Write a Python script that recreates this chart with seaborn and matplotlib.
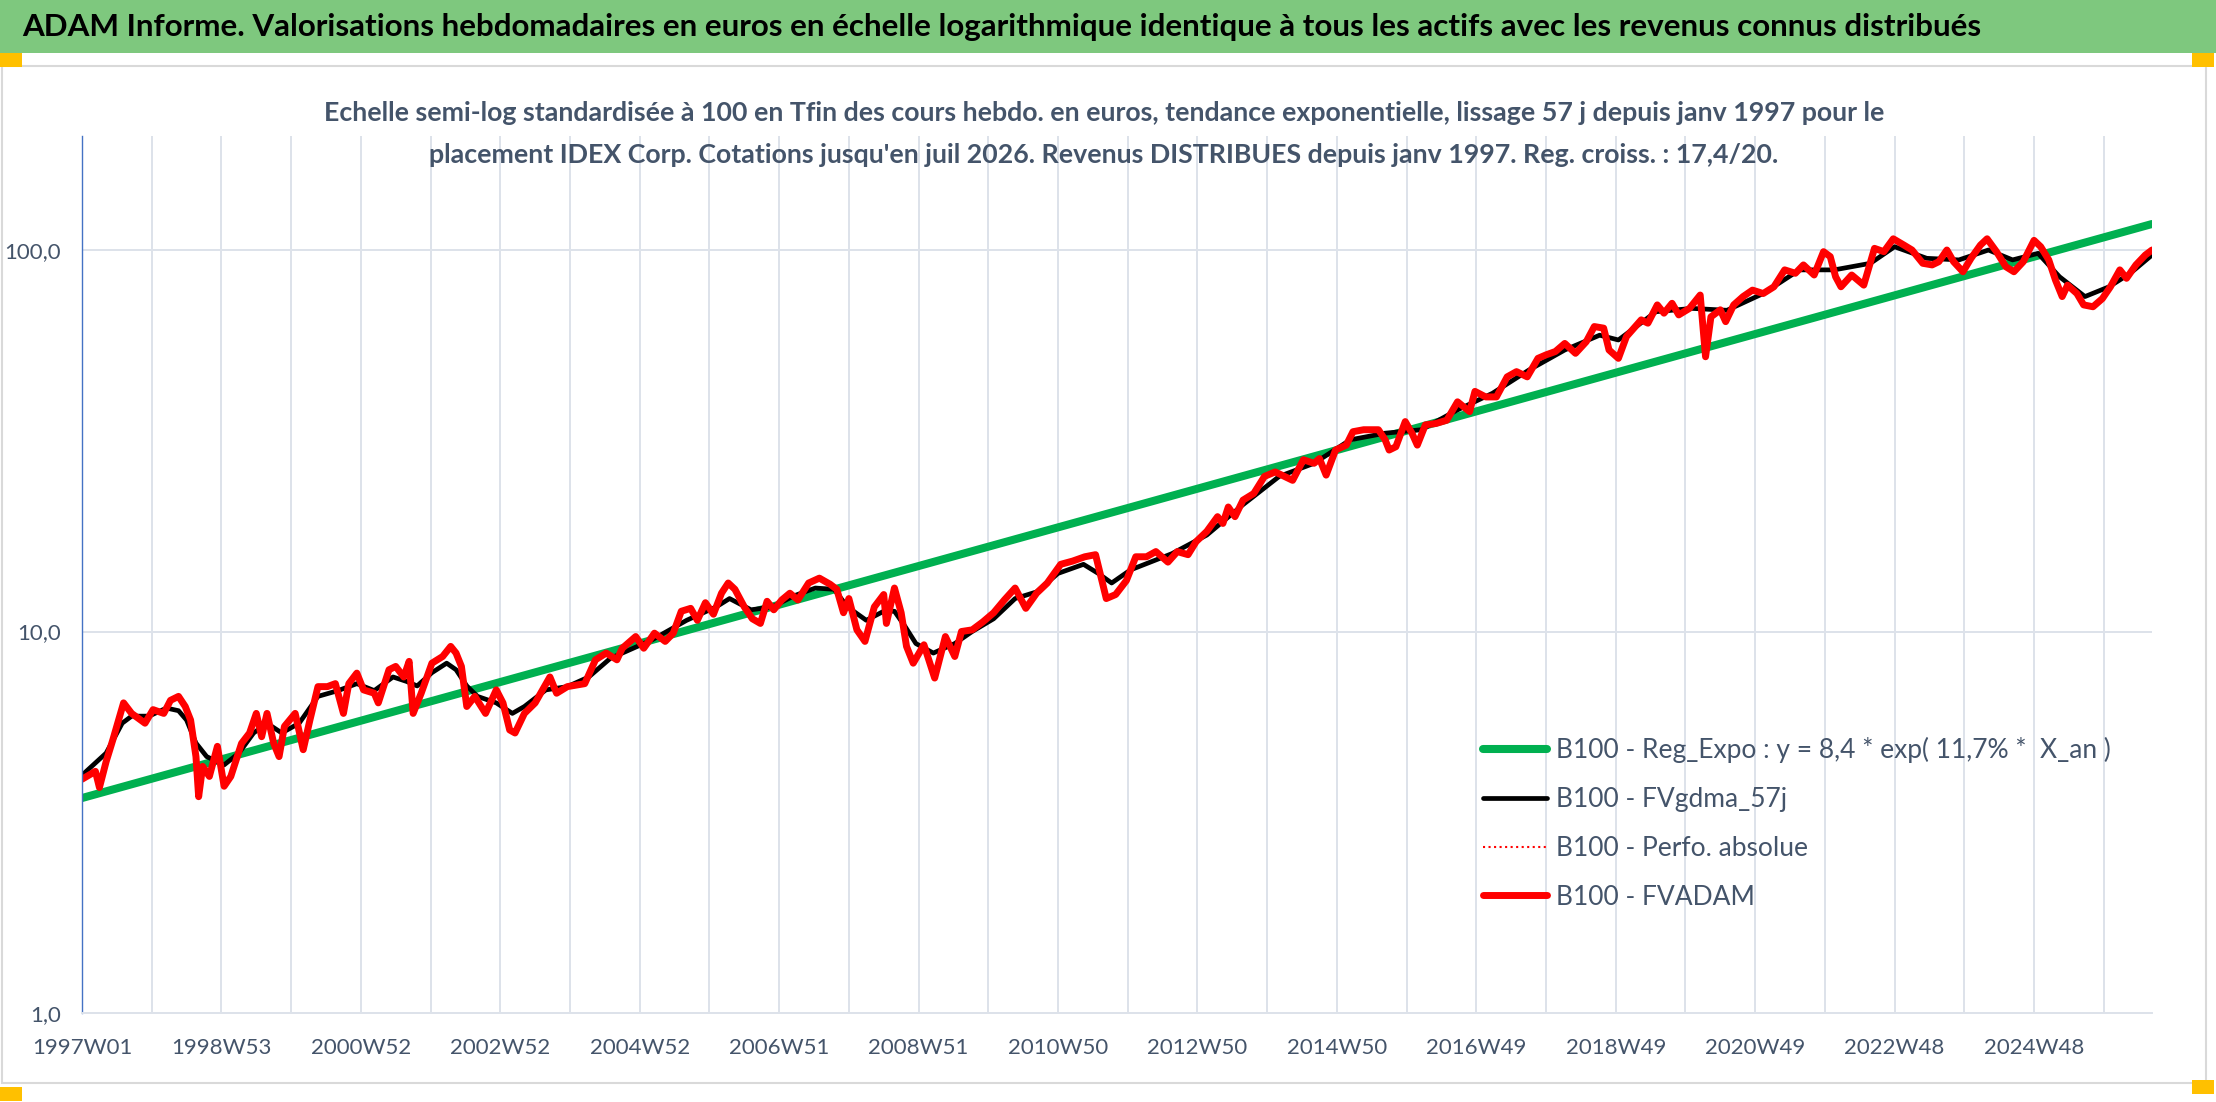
import seaborn as sns
import matplotlib.pyplot as plt
from matplotlib.patches import Rectangle

# semaines (index hebdo depuis 1997W01) et valeurs base 100
red_weeks = [0, 10, 13, 18, 23, 31, 37, 47, 53, 61, 66, 72, 77, 81, 85, 87, 90, 95, 101, 106,
             111, 119, 125, 130, 134, 138, 143, 147, 151, 159, 165, 170, 176, 183, 189, 195, 199, 205, 210, 218,
             221, 229, 234, 240, 244, 247, 253, 261, 269, 275, 279, 283, 287, 293, 301, 309, 314, 319, 323, 330,
             338, 349, 354, 362, 375, 383, 391, 399,
             403, 413, 419, 427, 435, 441, 447, 454, 459, 465, 471, 477, 482, 487, 494, 500, 506, 511, 516, 522,
             528, 534, 542, 550, 558, 563, 568, 572, 578, 584, 591, 598, 600, 606, 611, 615, 620, 628, 636, 644,
             651, 656, 664, 672, 680, 688, 696, 704, 712, 720, 730, 739, 748, 756, 764, 771, 779,
             786, 794, 801, 810, 817, 825, 831, 839, 847, 851, 855, 860, 866, 874, 882, 890, 897, 903, 911, 919,
             923, 928, 935, 943, 948, 956, 967, 972, 975, 980, 987, 992, 996, 1002, 1010, 1018, 1026, 1035, 1039, 1047,
             1055, 1063, 1070, 1078, 1086, 1092, 1099, 1106, 1114, 1122, 1128, 1135, 1139,
             1146, 1152, 1163, 1168, 1175, 1180, 1186, 1191, 1199, 1207, 1211, 1215, 1222, 1226, 1232, 1239, 1246, 1254, 1262, 1270,
             1278, 1284, 1292, 1299, 1304, 1308, 1312, 1320, 1329, 1337, 1344, 1351, 1359, 1365, 1373, 1380, 1385, 1391, 1396, 1403,
             1409, 1416, 1421, 1428, 1435, 1441, 1448, 1456, 1461, 1467, 1472, 1477, 1481, 1488, 1493, 1500, 1507, 1513, 1520, 1525,
             1532, 1539, 1544]
red_vals = [4.1, 4.3, 3.9, 4.56, 5.2, 6.5, 6.1, 5.75, 6.24, 6.1, 6.6, 6.76, 6.36, 5.86, 4.7, 3.69, 4.43, 4.17, 5.0, 3.93,
            4.17, 5.09, 5.42, 6.1, 5.3, 6.1, 5.09, 4.7, 5.64, 6.1, 4.9, 5.86, 7.17, 7.17, 7.3, 6.1, 7.3, 7.78, 7.03, 6.89,
            6.5, 7.94, 8.1, 7.6, 8.35, 6.1, 6.89, 8.26, 8.6, 9.14, 8.78, 8.1, 6.36, 6.76, 6.1, 7.03, 6.5, 5.52, 5.42, 6.1,
            6.5, 7.6, 6.89, 7.17, 7.3, 8.43, 8.78, 8.43,
            9.04, 9.7, 9.04, 9.9, 9.42, 9.9, 11.3, 11.5, 10.7, 11.9, 11.1, 12.6, 13.4, 12.9, 11.6, 10.8, 10.5, 12.0, 11.4, 12.1,
            12.6, 12.1, 13.4, 13.8, 13.3, 12.9, 11.2, 12.2, 10.1, 9.42, 11.6, 12.5, 10.5, 13.0, 11.2, 9.14, 8.26, 9.23, 7.55, 9.7,
            8.6, 10.0, 10.1, 10.6, 11.2, 12.1, 13.0, 11.5, 12.6, 13.4, 15.0, 15.3, 15.7, 15.9, 12.2, 12.5, 13.6,
            15.7, 15.7, 16.2, 15.2, 16.2, 15.9, 17.2, 18.3, 20.0, 19.2, 21.2, 20.0, 22.1, 23.0, 25.5, 26.2, 25.5, 24.9, 28.2, 27.6,
            28.4, 25.7, 29.9, 30.8, 33.4, 33.8, 33.8, 31.8, 29.9, 30.5, 35.5, 33.1, 30.8, 34.8, 35.1, 35.8, 40.0, 37.7, 42.6, 41.2,
            41.2, 46.5, 48.0, 46.5, 52.0, 53.1, 54.2, 56.9, 53.6, 57.5, 63.0, 62.4, 54.7,
            52.0, 59.3, 65.6, 64.3, 71.8, 68.3, 72.5, 67.6, 70.3, 76.2, 52.5, 66.8, 69.7, 64.9, 71.8, 75.5, 78.5, 76.9, 80.1, 88.7,
            86.9, 91.4, 86.0, 99.0, 96.1, 85.1, 80.1, 86.0, 80.9, 101, 99.0, 107, 103, 100, 92.3, 91.4, 93.2, 100, 93.2, 87.7,
            95.1, 103, 107, 99.0, 90.4, 87.7, 93.2, 106, 102, 94.2, 83.4, 75.5, 80.9, 76.9, 71.8, 71.0, 74.6, 80.1, 88.7, 84.3,
            91.4, 97.0, 100]

black_weeks = [0, 18, 30, 37, 50, 63, 72, 78, 85, 93, 106, 117, 128, 138, 149, 162, 176, 191, 205, 218,
               232, 242, 250, 261, 272, 279, 287, 295, 309, 321, 330, 346, 362, 378, 394,
               425, 451, 473, 483, 499, 515, 531, 547, 561, 571, 585, 598, 606, 614, 622, 635, 651, 664, 680, 696,
               712, 728, 747, 758, 768, 782,
               813, 839, 866, 893, 919, 946, 972, 999, 1026, 1052, 1079, 1106, 1132, 1146, 1174, 1201, 1227, 1254, 1281, 1307,
               1334, 1352, 1376, 1400, 1422, 1440, 1459, 1475, 1494, 1512, 1528, 1544]
black_vals = [4.2, 4.8, 5.75, 6.0, 6.0, 6.3, 6.2, 5.86, 5.1, 4.7, 4.47, 4.8, 5.42, 5.75, 5.42, 5.75, 6.76, 7.0, 7.3, 7.0,
              7.6, 7.4, 7.2, 7.8, 8.26, 7.94, 7.2, 6.76, 6.5, 6.1, 6.36, 7.03, 7.17, 7.6, 8.5,
              9.5, 10.7, 11.6, 12.2, 11.4, 11.6, 12.4, 13.0, 12.9, 11.6, 10.7, 11.3, 11.3, 10.3, 9.3, 8.78, 9.3, 10.0, 10.8, 12.2,
              12.7, 14.2, 15.0, 14.2, 13.4, 14.5,
              16.0, 17.9, 21.5, 25.5, 27.6, 31.8, 33.1, 33.8, 38.1, 42.1, 48.4, 54.7, 59.8, 58.1, 68.9, 70.3, 69.5, 76.9, 88.7, 88.7,
              92.3, 102, 95.1, 94.2, 100, 94.2, 98, 85.1, 75.5, 80.1, 87, 97]

# droite de regression expo (ligne droite en semi-log)
green_weeks = [0, 1544]
green_vals = [3.66, 117]

tick_labels = ['1997W01', '1998W53', '2000W52', '2002W52', '2004W52', '2006W51', '2008W51', '2010W50',
               '2012W50', '2014W50', '2016W49', '2018W49', '2020W49', '2022W48', '2024W48']

legend_labels = ['B100 - Reg_Expo : y = 8,4 * exp( 11,7% *  X_an )', 'B100 - FVgdma_57j',
                 'B100 - Perfo. absolue', 'B100 - FVADAM']

sns.set_style("white")
plt.rcParams['font.family'] = ['Lato', 'DejaVu Sans']

W, H = 2216, 1102
fig = plt.figure(figsize=(W / 100, H / 100), dpi=100)
ax = fig.add_axes([82 / W, 1 - 1013 / H, (2152 - 82) / W, (1013 - 136) / H])

grid_c = '#dde2ea'
text_c = '#44546a'

sns.lineplot(x=green_weeks, y=green_vals, ax=ax, color='#00b050', linewidth=5.8, label=legend_labels[0])
sns.lineplot(x=black_weeks, y=black_vals, ax=ax, color='black', linewidth=3.4, label=legend_labels[1])
sns.lineplot(x=red_weeks, y=red_vals, ax=ax, color='#ff0000', linewidth=1.5, linestyle=':', label=legend_labels[2])
sns.lineplot(x=red_weeks, y=red_vals, ax=ax, color='#ff0000', linewidth=5.0, label=legend_labels[3])

ax.set_yscale('log')
ax.set_xlim(0, 1544)
ax.set_ylim(1, 199)
ax.set_yticks([1, 10, 100])
ax.set_yticklabels(['1,0', '10,0', '100,0'])
ax.minorticks_off()
xt = list(range(0, 1545, 52))
ax.set_xticks(xt)
ax.set_xticklabels([tick_labels[i // 2] if i % 2 == 0 else '' for i in range(len(xt))])
ax.grid(True, color=grid_c, linewidth=1.4)
ax.tick_params(axis='x', direction='out', length=6, width=1.4, color=grid_c, pad=12,
               labelsize=16, labelcolor=text_c)
ax.tick_params(axis='y', length=0, pad=15, labelsize=16, labelcolor=text_c)
for s in ['top', 'right']:
    ax.spines[s].set_visible(False)
ax.spines['left'].set_color('#4472c4')
ax.spines['left'].set_linewidth(1.0)
ax.spines['bottom'].set_color(grid_c)
ax.spines['bottom'].set_linewidth(1.4)
ax.set_xlabel('')
ax.set_ylabel('')

ax.legend(loc='upper left', bbox_to_anchor=(1470 / W, 1 - 724 / H), bbox_transform=fig.transFigure,
          frameon=False, fontsize=19, handlelength=2.4, handletextpad=0.35, labelspacing=0.9,
          borderpad=0, labelcolor=text_c)

# bandeau titre + cadre du graphique
fig.patches.append(Rectangle((0, 1 - 53 / H), 1, 53 / H, transform=fig.transFigure,
                             facecolor='#7ec87e', edgecolor='none', zorder=0))
fig.patches.append(Rectangle((2 / W, 1 - 1083 / H), (2206 - 2) / W, (1083 - 66) / H, transform=fig.transFigure,
                             facecolor='none', edgecolor='#d9d9d9', linewidth=1.5, zorder=0))
for (x0, y0) in [(0, 53), (0, 1087), (2192, 53), (2192, 1080)]:
    fig.patches.append(Rectangle((x0 / W, 1 - (y0 + 14) / H), 22 / W, 14 / H, transform=fig.transFigure,
                                 facecolor='#ffc000', edgecolor='none', zorder=1))

title = fig.text(22 / W, 1 - 27 / H,
                 'ADAM Informe. Valorisations hebdomadaires en euros en échelle logarithmique identique à tous les actifs avec les revenus connus distribués',
                 ha='left', va='center', fontsize=24, fontweight='bold', color='black')
sub1 = fig.text(1104 / W, 1 - 113 / H,
                'Echelle semi-log standardisée à 100 en Tfin des cours hebdo. en euros, tendance exponentielle, lissage 57 j depuis janv 1997 pour le',
                ha='center', va='center', fontsize=20, fontweight='bold', color=text_c)
sub2 = fig.text(1104 / W, 1 - 155 / H,
                "placement IDEX Corp. Cotations jusqu'en juil 2026. Revenus DISTRIBUES depuis janv 1997. Reg. croiss. : 17,4/20.",
                ha='center', va='center', fontsize=20, fontweight='bold', color=text_c)

# ajuste la taille des titres a la largeur du modele
fig.canvas.draw()
rend = fig.canvas.get_renderer()
tw = title.get_window_extent(rend).width
title.set_fontsize(title.get_fontsize() * 1966 / tw)
sw = sub1.get_window_extent(rend).width
fs = sub1.get_fontsize() * 1566 / sw
sub1.set_fontsize(fs)
sub2.set_fontsize(fs)

fig.savefig('out.png', dpi=100)
